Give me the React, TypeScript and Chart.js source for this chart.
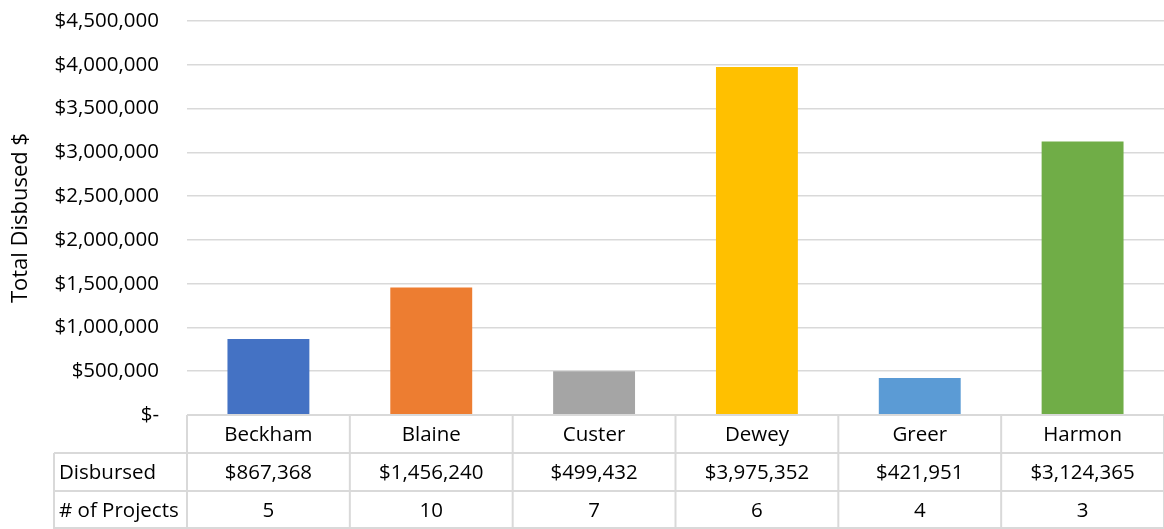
import React, { useEffect, useRef } from "react";
import { Chart, registerables } from "chart.js";

Chart.register(...registerables);

const counties = ["Beckham", "Blaine", "Custer", "Dewey", "Greer", "Harmon"];
const disbursed = [867368, 1456240, 499432, 3975352, 421951, 3124365];
const projects = [5, 10, 7, 6, 4, 3];
const barColors = ["#4472C4", "#ED7D31", "#A5A5A5", "#FFC000", "#5B9BD5", "#70AD47"];
const rowLabels = ["Disbursed", "# of Projects"];
const yTitle = "Total Disbused $";

const FONT = "'Open Sans', 'Noto Sans', sans-serif";
const FS_TICK = 20.5;
const FS_TABLE = 20.5;
const GRID = "#d9d9d9";

const fmtMoney = (v: number) => (v === 0 ? "$-" : "$" + v.toLocaleString("en-US"));

const tablePlugin = {
  id: "dataTable",
  afterDraw(chart: any) {
    const { ctx, chartArea } = chart;
    const x = chart.scales.x;
    const left = chartArea.left;
    const right = chartArea.right;
    const top = chartArea.bottom;
    const rowH = 38;
    const labelLeft = 54;
    ctx.save();
    ctx.strokeStyle = GRID;
    ctx.lineWidth = 2;
    const hl = (y: number, x0: number) => {
      ctx.beginPath();
      ctx.moveTo(x0, y);
      ctx.lineTo(right, y);
      ctx.stroke();
    };
    hl(top, left);
    hl(top + rowH, labelLeft);
    hl(top + rowH * 2, labelLeft);
    hl(top + rowH * 3 - 1, labelLeft);
    const vl = (xx: number, y0: number) => {
      ctx.beginPath();
      ctx.moveTo(xx, y0);
      ctx.lineTo(xx, top + rowH * 3);
      ctx.stroke();
    };
    vl(labelLeft, top + rowH);
    const n = counties.length;
    const cw = (right - left) / n;
    for (let i = 0; i <= n; i++) vl(left + cw * i, top);

    ctx.fillStyle = "#000";
    ctx.font = `${FS_TABLE}px ${FONT}`;
    ctx.textBaseline = "middle";
    ctx.textAlign = "center";
    counties.forEach((c, i) => {
      const cx = x.getPixelForValue(i);
      ctx.fillText(c, cx, top + rowH / 2 + 1);
      ctx.fillText(fmtMoney(disbursed[i]), cx, top + rowH * 1.5 + 1);
      ctx.fillText(String(projects[i]), cx, top + rowH * 2.5 + 1);
    });
    ctx.textAlign = "left";
    rowLabels.forEach((l, r) => {
      ctx.fillText(l, labelLeft + 5, top + rowH * (1.5 + r) + 1);
    });
    ctx.restore();
  },
};

export default function App() {
  const ref = useRef<HTMLCanvasElement>(null);
  useEffect(() => {
    document.body.style.margin = "0";
    const chart = new Chart(ref.current!, {
      type: "bar",
      data: {
        labels: counties,
        datasets: [
          {
            label: "Disbursed",
            data: disbursed,
            backgroundColor: barColors,
            barPercentage: 0.503,
            categoryPercentage: 1,
          },
        ],
      },
      options: {
        animation: false,
        responsive: false,
        maintainAspectRatio: false,
        layout: { padding: { top: 21, bottom: 114, left: 0, right: 0 } },
        plugins: { legend: { display: false }, tooltip: { enabled: false } },
        scales: {
          x: { display: false },
          y: {
            min: 0,
            max: 4500000,
            afterFit(scale: any) {
              scale.width = 187;
            },
            ticks: {
              stepSize: 500000,
              padding: 0,
              color: "#000",
              font: { family: FONT, size: FS_TICK },
              callback: (v: any) => fmtMoney(Number(v)),
            },
            grid: {
              color: GRID,
              lineWidth: 1.5,
              drawTicks: true,
              tickLength: 28,
              tickColor: "rgba(0,0,0,0)",
            },
            border: { display: false },
            title: {
              display: true,
              text: yTitle,
              color: "#000",
              font: { family: FONT, size: 22 },
              padding: { top: 8, bottom: 0 },
            },
          },
        },
      },
      plugins: [tablePlugin],
    });
    return () => chart.destroy();
  }, []);
  return (
    <div style={{ position: "absolute", left: 0, top: 0, width: 1164, height: 529 }}>
      <canvas ref={ref} width={1164} height={529} style={{ width: 1164, height: 529 }} />
    </div>
  );
}
